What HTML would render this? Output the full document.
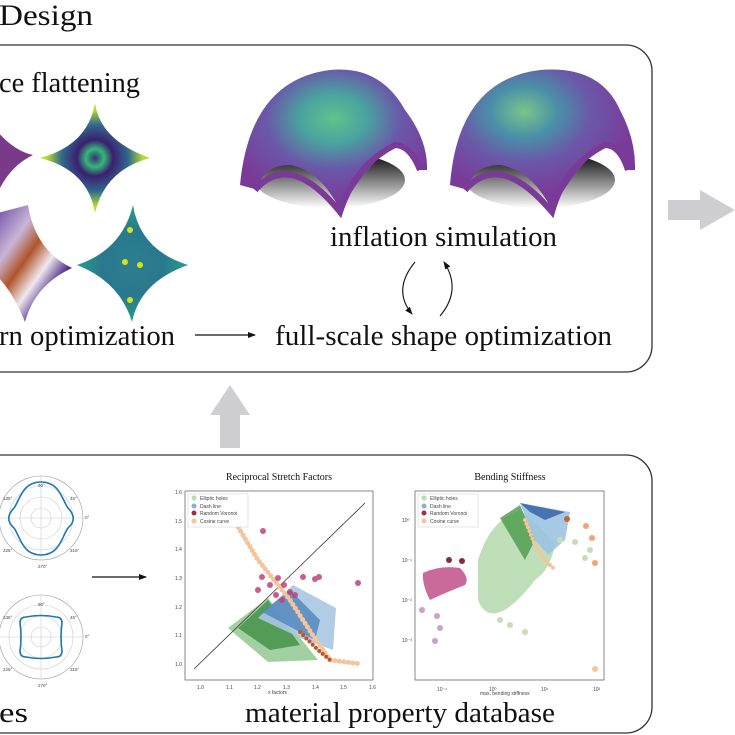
<!DOCTYPE html>
<html><head><meta charset="utf-8"><style>
html,body{margin:0;padding:0;background:#fff;}
svg{display:block;}
text{font-family:"Liberation Serif",serif;}
.s text{font-family:"Liberation Sans",sans-serif;fill:#444;}
</style></head><body>
<svg width="735" height="735" viewBox="0 0 735 735" xmlns="http://www.w3.org/2000/svg">
<defs>
<radialGradient id="vir" cx="50%" cy="50%" r="55%">
<stop offset="0" stop-color="#3a2f7a"/><stop offset="0.15" stop-color="#35b779"/><stop offset="0.3" stop-color="#3b1f6e"/><stop offset="0.55" stop-color="#31688e"/><stop offset="0.8" stop-color="#b5de2b"/><stop offset="1" stop-color="#d8e219"/></radialGradient>
<radialGradient id="teal" cx="50%" cy="50%" r="55%">
<stop offset="0" stop-color="#2c7f8e"/><stop offset="0.5" stop-color="#2a788e"/><stop offset="1" stop-color="#22a884"/></radialGradient>
<linearGradient id="tw" x1="0" y1="0" x2="1" y2="1">
<stop offset="0" stop-color="#5a3a9a"/><stop offset="0.3" stop-color="#c9b5d8"/><stop offset="0.45" stop-color="#b0552a"/><stop offset="0.6" stop-color="#f0e8ee"/><stop offset="0.75" stop-color="#4b2a8a"/><stop offset="1" stop-color="#6a3a9a"/></linearGradient>
<radialGradient id="dome1" cx="50%" cy="35%" r="60%">
<stop offset="0" stop-color="#5fc38a"/><stop offset="0.3" stop-color="#4aa2a0"/><stop offset="0.6" stop-color="#6a58a8"/><stop offset="1" stop-color="#7a3a98"/></radialGradient>
<radialGradient id="dome2" cx="40%" cy="30%" r="60%">
<stop offset="0" stop-color="#7ac48a"/><stop offset="0.3" stop-color="#4a90a8"/><stop offset="0.6" stop-color="#6a58a8"/><stop offset="1" stop-color="#7a3a98"/></radialGradient>
<linearGradient id="shad" x1="0" y1="0" x2="0" y2="1"><stop offset="0" stop-color="#000"/><stop offset="1" stop-color="#fff"/></linearGradient>
<marker id="ah" markerWidth="8" markerHeight="8" refX="7" refY="4" orient="auto" markerUnits="userSpaceOnUse"><path d="M0,1 L8,4 L0,7 Z" fill="#111"/></marker>
</defs>

<text x="-1" y="25" font-size="30" fill="#111" textLength="94" lengthAdjust="spacingAndGlyphs">Design</text>

<!-- top box -->
<rect x="-40" y="45" width="692" height="327" rx="26" fill="none" stroke="#333" stroke-width="1.3"/>
<text x="-1" y="92" font-size="28" fill="#111" textLength="141" lengthAdjust="spacingAndGlyphs">ce flattening</text>
<text x="-1" y="345" font-size="28" fill="#111" textLength="176" lengthAdjust="spacingAndGlyphs">rn optimization</text>
<line x1="195" y1="335" x2="255" y2="335" stroke="#111" stroke-width="1.2" marker-end="url(#ah)"/>
<text x="275" y="345" font-size="28" fill="#111" textLength="337" lengthAdjust="spacingAndGlyphs">full-scale shape optimization</text>
<text x="330" y="246" font-size="28" fill="#111" textLength="227" lengthAdjust="spacingAndGlyphs">inflation simulation</text>
<path d="M415,262 Q392,290 412,314" fill="none" stroke="#111" stroke-width="1.1" marker-end="url(#ah)"/>
<path d="M440,316 Q462,290 444,262" fill="none" stroke="#111" stroke-width="1.1" marker-end="url(#ah)"/>

<!-- flattened shapes -->
<path d="M-10,122 Q10,150 33,155 Q12,165 0,188 Z" fill="#7a3a8a"/>
<path d="M95,103 Q100,140 150,158 Q105,170 95,213 Q88,170 40,158 Q88,145 95,103 Z" fill="url(#vir)"/>
<path d="M28,205 Q35,250 72,268 Q35,285 25,322 Q10,285 -10,270 L-10,215 Z" fill="url(#tw)"/>
<path d="M133,205 Q140,250 188,265 Q140,282 132,322 Q120,282 77,265 Q122,250 133,205 Z" fill="url(#teal)"/>
<circle cx="130" cy="230" r="3" fill="#d8e219"/><circle cx="125" cy="262" r="3" fill="#d8e219"/><circle cx="140" cy="265" r="3" fill="#d8e219"/><circle cx="130" cy="300" r="3" fill="#d8e219"/>

<!-- domes -->
<ellipse cx="330" cy="180" rx="75" ry="28" fill="url(#shad)"/>
<path d="M240,185 Q250,80 330,70 Q380,65 405,110 Q428,140 427,170 L418,170 Q410,140 395,145 Q370,160 340,210 Q320,170 290,165 Q262,165 258,190 Z" fill="url(#dome1)"/>
<path d="M255,190 Q290,150 340,212 Q355,165 395,145 Q410,145 420,170" fill="none" stroke="#7a3a98" stroke-width="6"/>
<ellipse cx="540" cy="180" rx="75" ry="28" fill="url(#shad)"/>
<path d="M450,185 Q458,80 540,70 Q600,65 620,110 Q636,140 635,170 L626,170 Q618,140 605,145 Q580,160 552,210 Q532,170 500,165 Q472,165 468,190 Z" fill="url(#dome2)"/>
<path d="M465,190 Q500,150 552,212 Q565,165 605,145 Q620,145 628,170" fill="none" stroke="#7a3a98" stroke-width="6"/>

<!-- grey arrows -->
<path d="M668,200 H700 V190 L735,210 L700,230 V220 H668 Z" fill="#cfcfd1"/>
<path d="M210,415 L230,385 L250,415 H240 V448 H220 V415 Z" fill="#cfcfd1"/>

<!-- bottom box -->
<rect x="-40" y="455" width="692" height="278" rx="26" fill="none" stroke="#333" stroke-width="1.3"/>
<text x="-1" y="722" font-size="28" fill="#111" textLength="29" lengthAdjust="spacingAndGlyphs">es</text>
<text x="245" y="722" font-size="28" fill="#111" textLength="310" lengthAdjust="spacingAndGlyphs">material property database</text>
<line x1="92" y1="577" x2="146" y2="577" stroke="#111" stroke-width="1.2" marker-end="url(#ah)"/>

<!-- polar plots -->
<g fill="none" stroke="#ccc" stroke-width="0.6">
<circle cx="41" cy="518" r="42" stroke="#999"/><circle cx="41" cy="518" r="32"/><circle cx="41" cy="518" r="21"/><circle cx="41" cy="518" r="10"/>
<line x1="-1" y1="518" x2="83" y2="518"/><line x1="41" y1="476" x2="41" y2="560"/>
<circle cx="41" cy="637" r="42" stroke="#999"/><circle cx="41" cy="637" r="32"/><circle cx="41" cy="637" r="21"/><circle cx="41" cy="637" r="10"/>
<line x1="-1" y1="637" x2="83" y2="637"/><line x1="41" y1="595" x2="41" y2="679"/>
</g>
<path d="M41,482 C60,482 62,500 68,508 C75,515 75,522 68,528 C62,536 60,555 41,555 C22,555 20,536 14,528 C7,522 7,515 14,508 C20,500 22,482 41,482 Z" fill="none" stroke="#1f77b4" stroke-width="1.6"/>
<path d="M26,617 Q41,614 56,617 Q62,617 62,623 Q60,637 62,651 Q62,657 56,657 Q41,660 26,657 Q20,657 20,651 Q22,637 20,623 Q20,617 26,617 Z" fill="none" stroke="#1f77b4" stroke-width="1.6"/>
<g class="s" font-size="4.5"><text x="38" y="487">90°</text><text x="38" y="568">270°</text><text x="3" y="500">135°</text><text x="70" y="500">45°</text><text x="85" y="519">0°</text><text x="3" y="552">225°</text><text x="70" y="552">315°</text>
<text x="38" y="606">90°</text><text x="38" y="687">270°</text><text x="3" y="619">135°</text><text x="70" y="619">45°</text><text x="85" y="638">0°</text><text x="3" y="671">225°</text><text x="70" y="671">315°</text></g>

<!-- chart 1 -->
<text x="279" y="480" font-size="10" text-anchor="middle" fill="#111">Reciprocal Stretch Factors</text>
<rect x="185" y="491" width="188" height="189" fill="none" stroke="#555" stroke-width="0.7"/>
<g class="s" font-size="5"><text x="175" y="494">1.6</text><text x="175" y="523">1.5</text><text x="175" y="551">1.4</text><text x="175" y="580">1.3</text><text x="175" y="609">1.2</text><text x="175" y="637">1.1</text><text x="175" y="666">1.0</text>
<text x="197" y="689">1.0</text><text x="226" y="689">1.1</text><text x="254" y="689">1.2</text><text x="283" y="689">1.3</text><text x="312" y="689">1.4</text><text x="340" y="689">1.5</text><text x="369" y="689">1.6</text>
<text x="268" y="694">x factors</text></g>
<path d="M228,628 L268,598 L318,660 L268,662 Z" fill="#8cc48a" opacity="0.8"/>
<path d="M238,628 L268,600 L300,645 L270,650 Z" fill="#3d8e45" opacity="0.8"/>
<path d="M258,618 L293,585 L336,608 L333,650 L305,640 Z" fill="#a9c8e2" opacity="0.9"/>
<path d="M262,612 L290,590 L320,620 L315,640 Z" fill="#4f84bd" opacity="0.8"/>
<line x1="194" y1="669" x2="365" y2="503" stroke="#333" stroke-width="0.8"/>
<path d="M229,512 L258,560 L290,600 L312,634 L330,660 L361,664" fill="none" stroke="#f4c49a" stroke-width="5" stroke-linecap="round" stroke-dasharray="0 4.5"/>
<path d="M300,632 L318,650 L330,660" fill="none" stroke="#c0552a" stroke-width="4" stroke-linecap="round" stroke-dasharray="0 4.5"/>
<g fill="#c0427a" opacity="0.85"><circle cx="263" cy="531" r="3"/><circle cx="262" cy="577" r="3"/><circle cx="270" cy="585" r="3"/><circle cx="278" cy="578" r="3"/><circle cx="284" cy="585" r="3"/><circle cx="276" cy="595" r="3"/><circle cx="290" cy="592" r="3"/><circle cx="303" cy="577" r="3"/><circle cx="315" cy="579" r="3"/><circle cx="319" cy="577" r="3"/><circle cx="358" cy="583" r="3"/><circle cx="295" cy="595" r="3"/><circle cx="258" cy="590" r="3"/><circle cx="282" cy="600" r="3"/></g>
<g fill="#fff" stroke="#ccc" stroke-width="0.5"><rect x="188" y="494" width="60" height="33"/></g>
<circle cx="194" cy="498" r="2.5" fill="#b8dcb0"/><circle cx="194" cy="506" r="2.5" fill="#8ab0d8"/><circle cx="194" cy="513" r="2.5" fill="#a0304a"/><circle cx="194" cy="521" r="2.5" fill="#f4c49a"/>
<g class="s" font-size="5"><text x="200" y="500">Elliptic holes</text><text x="200" y="508">Dash line</text><text x="200" y="515">Random Voronoi</text><text x="200" y="523">Cosine curve</text></g>

<!-- chart 2 -->
<text x="510" y="480" font-size="10" text-anchor="middle" fill="#111">Bending Stiffness</text>
<rect x="415" y="491" width="189" height="189" fill="none" stroke="#555" stroke-width="0.7"/>
<g class="s" font-size="5"><text x="402" y="522">10⁰</text><text x="402" y="562">10⁻¹</text><text x="402" y="602">10⁻²</text><text x="402" y="642">10⁻³</text>
<text x="437" y="691">10⁻¹</text><text x="489" y="691">10⁰</text><text x="541" y="691">10¹</text><text x="593" y="691">10²</text>
<text x="480" y="695">max. bending stiffness</text></g>
<path d="M478,560 Q490,520 520,510 Q540,525 555,545 Q550,570 535,580 Q520,600 505,610 Q485,620 478,600 Z" fill="#b8dcb0" opacity="0.9"/>
<path d="M500,518 L520,505 L535,540 L525,560 Z" fill="#4a9a4a" opacity="0.8"/>
<path d="M520,503 L570,512 L565,540 L548,555 L535,540 Z" fill="#9cc3e2" opacity="0.9"/>
<path d="M520,503 L565,512 L545,520 L530,512 Z" fill="#3d6aa8" opacity="0.9"/>
<path d="M525,520 L535,545 L545,560 L553,568" fill="none" stroke="#f4c49a" stroke-width="4" stroke-linecap="round" stroke-dasharray="0 4"/>
<g fill="#c7ddb8"><circle cx="560" cy="540" r="3"/><circle cx="575" cy="542" r="3"/><circle cx="590" cy="550" r="3"/><circle cx="585" cy="558" r="3"/><circle cx="500" cy="620" r="3"/><circle cx="510" cy="625" r="3"/><circle cx="525" cy="632" r="3"/></g>
<g fill="#f4a470"><circle cx="586" cy="526" r="3"/><circle cx="592" cy="538" r="3"/><circle cx="595" cy="563" r="3"/><circle cx="595" cy="669" r="3" fill="#f4c49a"/><circle cx="567" cy="519" r="3" fill="#d0603a"/></g>
<path d="M423,573 Q440,565 460,568 Q470,578 465,585 Q440,595 430,600 Q422,585 423,573 Z" fill="#c0508a" opacity="0.85"/>
<g fill="#c9a0c8"><circle cx="422" cy="610" r="3"/><circle cx="437" cy="616" r="3"/><circle cx="440" cy="628" r="3"/><circle cx="435" cy="641" r="3"/></g>
<g fill="#8a2a3a"><circle cx="449" cy="560" r="3"/><circle cx="462" cy="561" r="3"/></g>
<g fill="#fff" stroke="#ccc" stroke-width="0.5"><rect x="418" y="494" width="60" height="33"/></g>
<circle cx="424" cy="498" r="2.5" fill="#b8dcb0"/><circle cx="424" cy="506" r="2.5" fill="#8ab0d8"/><circle cx="424" cy="513" r="2.5" fill="#a0304a"/><circle cx="424" cy="521" r="2.5" fill="#f4c49a"/>
<g class="s" font-size="5"><text x="430" y="500">Elliptic holes</text><text x="430" y="508">Dash line</text><text x="430" y="515">Random Voronoi</text><text x="430" y="523">Cosine curve</text></g>
</svg>
</body></html>
